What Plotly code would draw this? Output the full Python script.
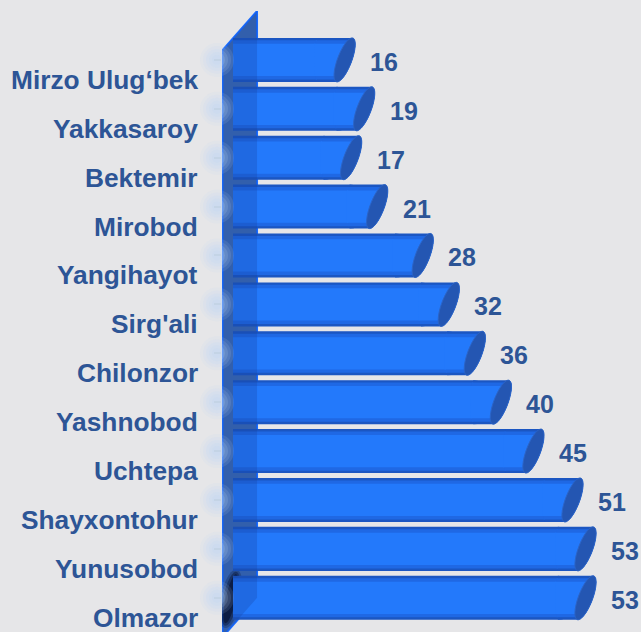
import numpy as np
import plotly.graph_objects as go

# District names (top to bottom) and their counts
districts = ["Mirzo Ulug‘bek", "Yakkasaroy", "Bektemir", "Mirobod", "Yangihayot",
             "Sirg'ali", "Chilonzor", "Yashnobod", "Uchtepa", "Shayxontohur",
             "Yunusobod", "Olmazor"]
counts = [16, 19, 17, 21, 28, 32, 36, 40, 45, 51, 53, 53]

rows = list(range(len(districts)))

BG = "#e6e6e8"
TEXT = "#2d5596"
FONT = "Liberation Sans, Arial, sans-serif"

# axis geometry
X_RANGE = [-1.69, 62.67]
Y_RANGE = [len(districts) - 0.3, -1.0]

# cylinder geometry (data units)
HALF_H = 0.45      # half thickness of a bar
TILT = 1.15        # horizontal lean of the end face
RAD = 1.15         # horizontal radius of the end face

# shaded layers of each tube: thickness, colour, corner radius (px),
# and how far back the square end sleeve starts (data units)
LAYERS = [(0.9, "#1b56c2", 20, 3.1), (0.8, "#1f68e4", 18, 3.3), (0.66, "#2379fb", 15, 3.5)]


def face_xy(cx, cy, t):
    return cx + RAD * np.cos(t) - TILT * np.sin(t), cy + HALF_H * np.sin(t)


def poly(xs, ys):
    pts = [f"{x:.4f},{y:.4f}" for x, y in zip(xs, ys)]
    return "M" + " L".join(pts) + " Z"


fig = go.Figure()

for w, col, cr, _ in LAYERS:
    fig.add_trace(go.Bar(
        y=rows, x=counts, orientation="h", width=w,
        marker=dict(color=col, line=dict(width=0), cornerradius=cr),
        hoverinfo="skip", showlegend=False,
    ))

shapes = []

# side wall behind the bars
n = len(districts)
wall_path = (f"M{X_RANGE[0] + 0.1},-0.2 L3.69,-1.0 L3.69,{n - 1} "
             f"L{X_RANGE[0] + 0.1},{n - 0.2} Z")
shapes.append(dict(type="path", xref="x", yref="y", path=wall_path, layer="below",
                   fillcolor="#3d6bb3", line=dict(color="#1a6cff", width=2)))

# dark, soft shadow at the root of the lowest tube
last = rows[-1]
for rx, ry, op in [(1.6, 0.6, 0.25), (1.2, 0.55, 0.4), (0.8, 0.5, 0.6)]:
    t = np.linspace(0, 2 * np.pi, 60)
    xs = -0.35 + rx * np.cos(t) - 0.8 * np.sin(t)
    ys = last + 0.02 + ry * np.sin(t)
    shapes.append(dict(type="path", xref="x", yref="y", layer="below",
                       path=poly(xs, ys), fillcolor=f"rgba(0,0,10,{op})",
                       line=dict(width=0)))

# translucent wall face in front of the bar roots
shapes.append(dict(type="path", xref="x", yref="y", path=wall_path, layer="above",
                   fillcolor="rgba(20,60,150,0.25)", line=dict(width=0)))

# tube ends: shaded sleeve up to the tilted rim, then the darker end face
for i, v in zip(rows, counts):
    cx = v + TILT
    for w, col, _, back in LAYERS:
        lim = np.arcsin(min(1.0, w / 2 / HALF_H))
        t = np.linspace(-lim, lim, 40)
        ax, ay = face_xy(cx, i, t)
        xs = np.concatenate([[v - back], ax, [v - back]])
        ys = np.concatenate([[i - w / 2], ay, [i + w / 2]])
        shapes.append(dict(type="path", xref="x", yref="y", layer="above",
                           path=poly(xs, ys), fillcolor=col, line=dict(width=0)))
    t = np.linspace(0, 2 * np.pi, 72)
    xs, ys = face_xy(cx, i, t)
    shapes.append(dict(type="path", xref="x", yref="y", layer="above",
                       path=poly(xs, ys), fillcolor="#2456b2",
                       line=dict(color="#2c64c6", width=1)))

# soft glow at the root of each bar
for i in rows:
    for r, op in [(17, 0.12), (14, 0.14), (11, 0.16), (8, 0.18), (5, 0.2)]:
        shapes.append(dict(type="circle", xref="paper", yref="y", layer="above",
                           xsizemode="pixel", xanchor=0, x0=-5 - r, x1=-5 + r,
                           ysizemode="pixel", yanchor=i, y0=-r, y1=r,
                           fillcolor=f"rgba(188,215,246,{op})", line=dict(width=0)))

annotations = []
for i, name in zip(rows, districts):
    annotations.append(dict(
        xref="paper", yref="y", x=0, y=i, xanchor="right", yanchor="middle",
        xshift=-22, yshift=-20, showarrow=False, text=name,
        font=dict(family=FONT, size=26.3, color=TEXT, weight="bold"),
    ))
for i, v in zip(rows, counts):
    annotations.append(dict(
        xref="x", yref="y", x=v, y=i, xanchor="left", yanchor="middle",
        xshift=31, yshift=-2, showarrow=False, text=str(v),
        font=dict(family=FONT, size=25, color=TEXT, weight="bold"),
    ))

fig.update_layout(
    width=641, height=632,
    margin=dict(l=222, r=0, t=11, b=0),
    paper_bgcolor=BG, plot_bgcolor=BG,
    barmode="overlay",
    shapes=shapes,
    annotations=annotations,
    xaxis=dict(range=X_RANGE, visible=False, fixedrange=True),
    yaxis=dict(range=Y_RANGE, tickvals=rows, showticklabels=False,
               ticks="outside", ticklen=7, tickwidth=2, tickcolor="#d2d2d4",
               showgrid=False, zeroline=False, showline=False, fixedrange=True),
)

fig.write_html("out.html")
